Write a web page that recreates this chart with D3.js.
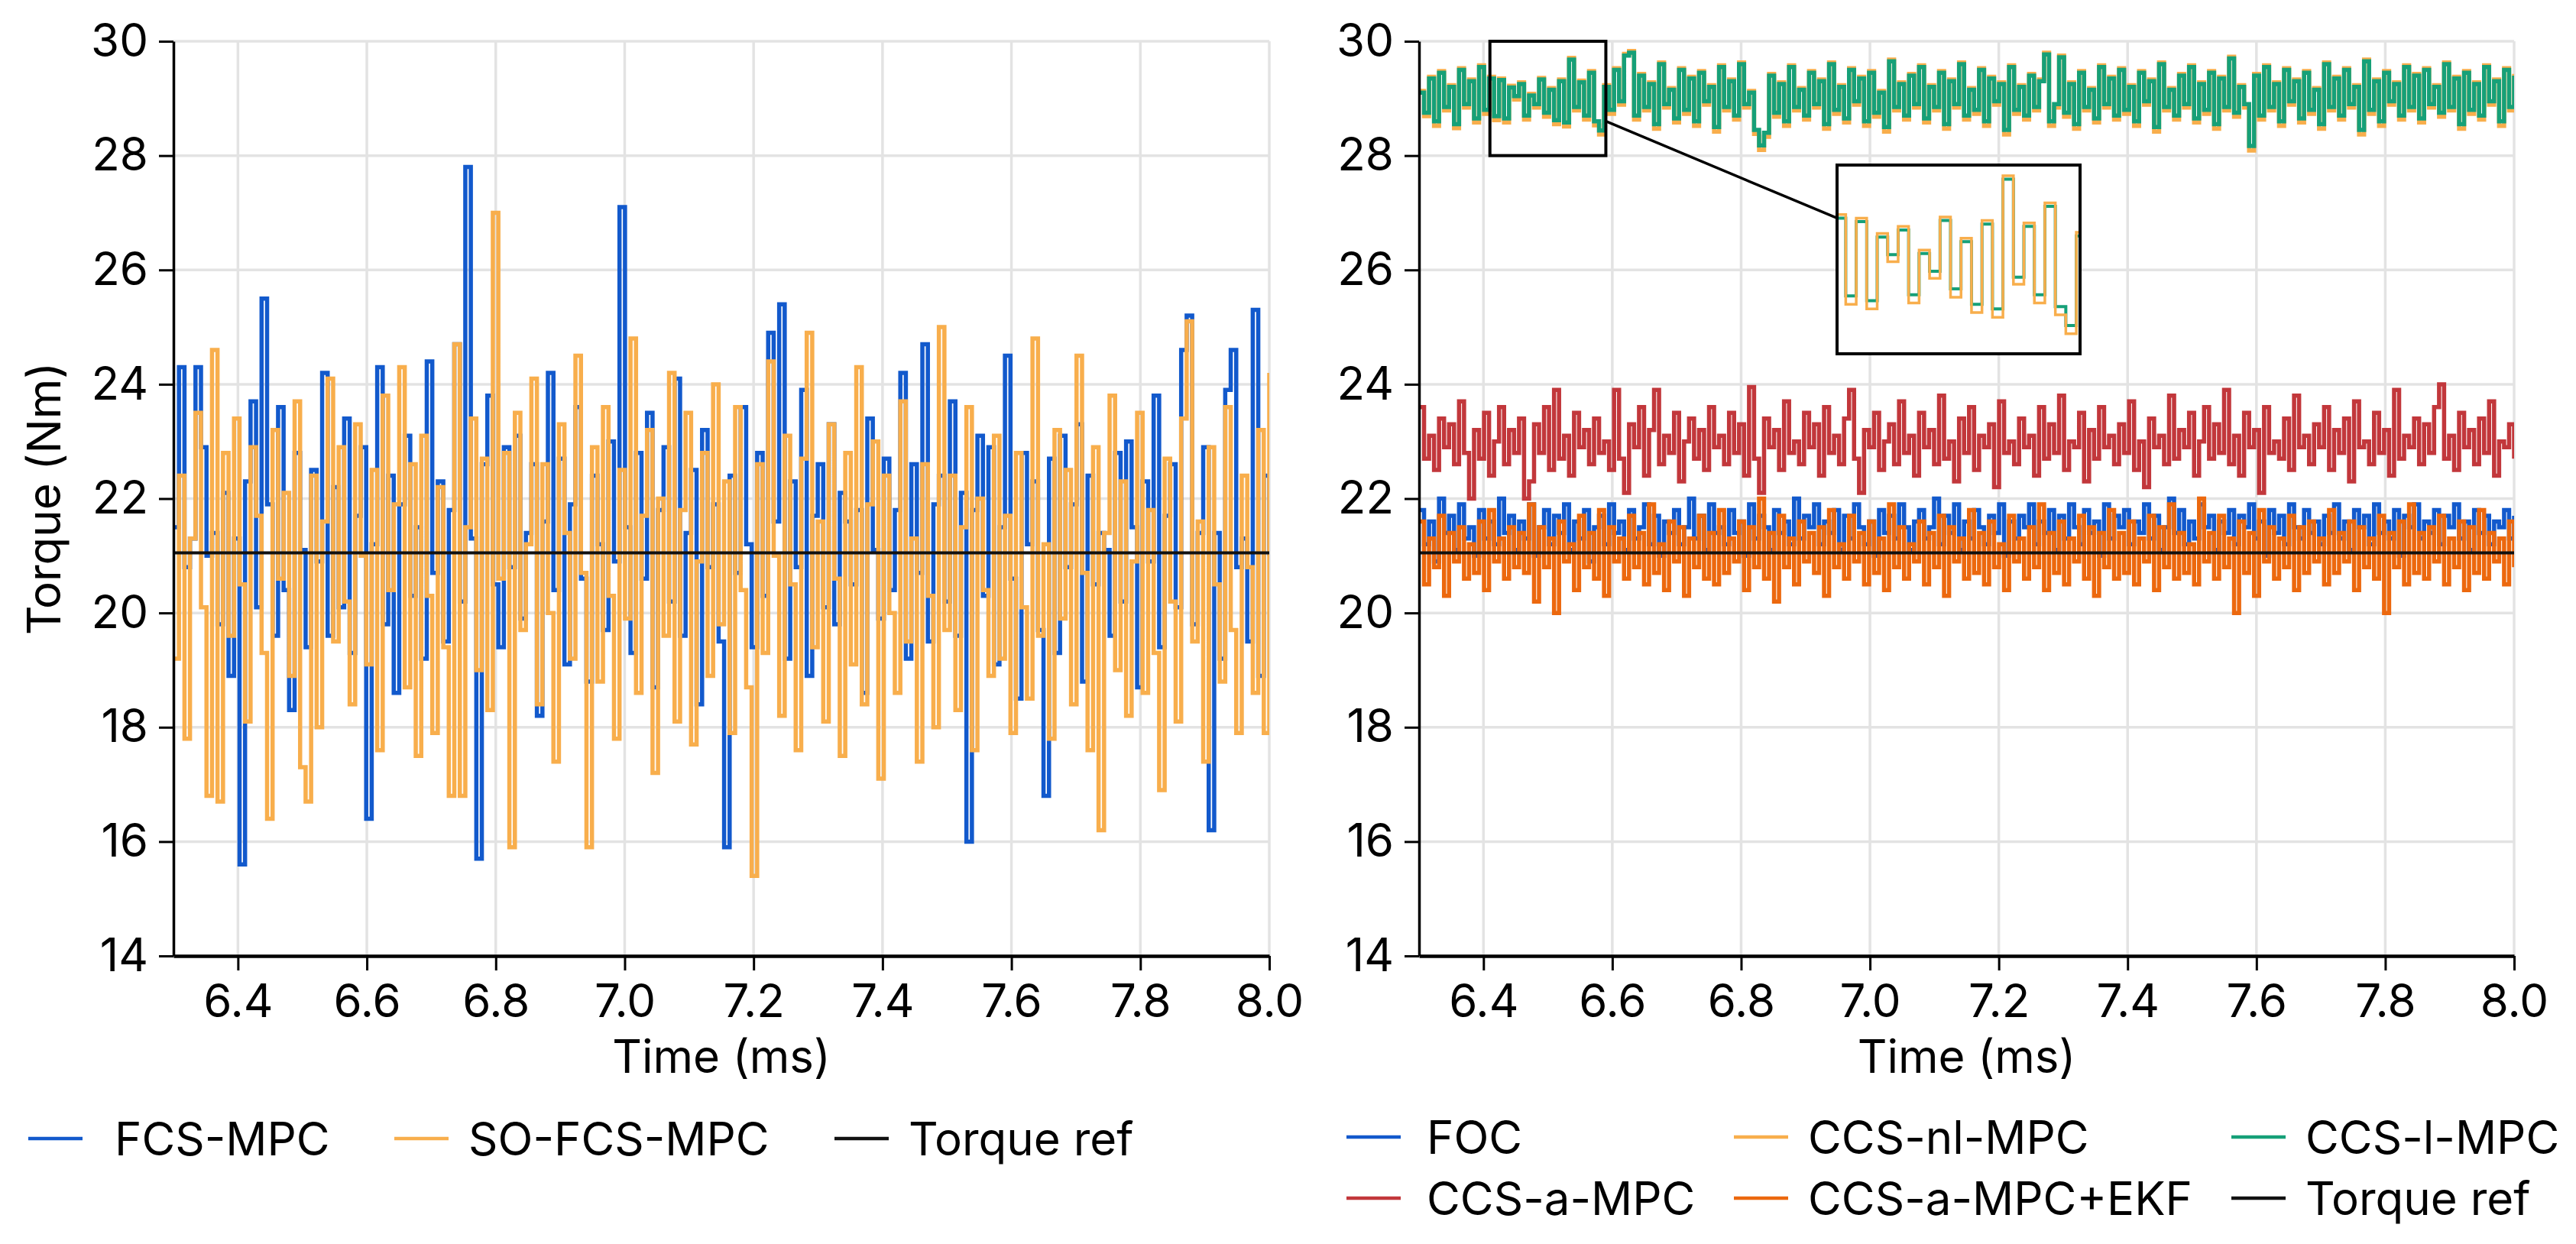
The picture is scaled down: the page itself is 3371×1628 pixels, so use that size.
<!DOCTYPE html>
<html>
<head>
<meta charset="utf-8">
<script src="https://cdn.jsdelivr.net/npm/d3@7"></script>
<style>
  body { margin: 0; background: #fff; }
  text { font-family: Inter, "Liberation Sans", sans-serif; fill: #000; }
</style>
</head>
<body>
<script>
// ---- data ----
var tStart = 6.3, tEnd = 8.0;
var torqueRef = 21.05;
var xTicks = [6.4, 6.6, 6.8, 7.0, 7.2, 7.4, 7.6, 7.8, 8.0];
var yTicks = [14, 16, 18, 20, 22, 24, 26, 28, 30];

var fcsMpc = [
  21.5,24.3,20.8,21.3,24.3,22.9,21.0,21.4,19.8,22.1,18.9,21.3,15.6,22.3,23.7,20.1,25.5,21.9,19.6,23.6,
  20.4,18.3,22.8,21.1,19.4,22.5,20.9,24.2,19.6,22.2,20.1,23.4,19.3,21.7,22.9,16.4,21.2,24.3,19.8,22.4,
  18.6,21.9,23.1,20.3,21.5,19.2,24.4,20.7,22.3,19.5,21.8,24.7,20.2,27.8,21.3,15.7,22.6,23.8,20.5,19.4,
  22.9,20.8,23.1,19.9,21.4,22.6,18.2,21.6,24.2,20.4,22.7,19.1,21.9,23.6,20.6,18.8,22.4,21.2,19.7,23.0,
  20.9,27.1,21.5,19.3,22.8,20.6,23.5,18.7,21.8,22.9,20.2,24.1,19.6,21.4,22.5,18.4,23.2,20.8,21.9,19.5,
  15.9,22.4,20.7,23.6,21.2,19.4,22.8,20.3,24.9,21.6,25.4,19.2,22.3,20.8,23.9,18.9,21.7,22.6,20.1,23.3,
  19.8,22.1,21.6,20.5,21.8,18.6,23.4,21.1,19.9,22.7,20.4,21.8,24.2,19.2,22.6,20.7,24.7,19.5,21.9,22.4,
  20.2,23.7,19.6,22.1,16.0,21.8,23.1,20.3,22.9,19.1,21.5,24.5,20.6,18.5,22.8,21.2,22.3,19.7,16.8,22.7,
  19.3,23.1,20.8,21.9,23.3,18.8,22.4,20.5,21.4,21.1,19.6,22.8,20.2,23.0,21.5,18.7,22.3,20.9,23.8,19.4,
  21.7,22.6,20.1,24.6,25.2,19.8,21.4,22.9,16.2,21.4,19.2,23.9,24.6,20.8,21.3,19.5,25.3,18.9,22.4,21.0
];
var soFcsMpc = [
  19.2,22.4,17.8,21.3,23.5,20.1,16.8,24.6,16.7,22.8,19.6,23.4,20.5,18.1,22.9,21.7,19.3,16.4,23.2,20.6,
  22.1,18.9,23.7,17.3,16.7,22.4,18.0,21.6,24.1,19.5,22.9,20.2,18.4,23.3,21.0,19.1,22.5,17.6,23.8,20.4,
  21.9,24.3,18.7,22.6,17.5,23.1,20.3,17.9,22.2,19.4,16.8,24.7,16.8,21.5,23.4,19.0,22.7,18.3,27.0,20.6,
  22.8,15.9,23.5,19.7,21.2,24.1,18.4,22.6,20.0,17.4,23.3,21.4,19.2,24.5,20.7,15.9,22.9,18.8,23.6,20.3,
  17.8,22.5,19.9,24.8,18.6,21.7,23.2,17.2,22.0,19.6,24.2,18.1,21.8,23.5,17.7,20.9,22.8,18.9,24.0,19.8,
  22.3,17.9,23.6,20.4,18.7,15.4,22.6,19.3,24.4,21.0,18.2,23.1,20.5,17.6,22.7,24.9,19.4,21.6,18.1,23.3,
  20.6,17.5,22.8,19.1,24.3,18.4,21.9,23.0,17.1,22.4,20.0,18.6,23.7,19.5,21.3,17.4,22.6,20.3,18.0,25.0,
  19.7,22.4,18.3,21.5,23.6,17.6,22.0,20.4,18.9,23.1,19.2,21.7,17.9,22.8,20.1,18.5,24.8,19.6,21.2,17.8,
  23.2,19.9,22.5,18.4,24.5,20.7,17.6,22.9,16.2,21.4,23.8,19.0,22.3,18.2,20.9,23.5,18.6,21.8,19.3,16.9,
  22.7,20.2,18.1,23.4,25.1,19.5,21.6,17.4,22.9,20.5,18.8,23.6,19.7,17.9,22.4,20.8,18.6,23.2,17.9,24.2
];

var foc = [
  21.8,21.2,21.6,20.9,22.0,21.4,21.7,21.1,21.9,21.3,21.5,21.0,21.8,21.3,21.6,21.2,22.0,21.4,21.7,21.1,
  21.6,21.3,21.9,21.0,21.5,21.8,21.2,21.7,21.4,21.9,21.1,21.6,21.3,21.8,20.9,21.5,21.7,21.2,21.9,21.4,
  21.6,21.1,21.8,21.3,21.5,21.9,21.2,21.7,21.0,21.6,21.4,21.8,21.2,21.5,22.0,21.3,21.7,21.1,21.9,21.4,
  21.5,21.2,21.8,21.4,21.6,21.0,21.9,21.3,21.7,21.5,21.1,21.8,21.4,21.6,21.2,22.0,21.3,21.7,21.5,21.9,
  21.2,21.6,21.4,21.8,21.1,21.7,21.3,21.9,21.5,21.2,21.6,21.0,21.8,21.4,21.7,21.3,21.9,21.5,21.1,21.6,
  21.8,21.3,21.5,22.0,21.2,21.7,21.4,21.9,21.1,21.6,21.3,21.8,21.5,21.2,21.7,21.4,21.9,21.0,21.6,21.3,
  21.7,21.5,21.9,21.2,21.6,21.4,21.8,21.1,21.7,21.3,21.9,21.5,21.2,21.8,21.4,21.6,21.0,21.9,21.3,21.7,
  21.5,21.8,21.2,21.6,21.4,21.9,21.3,21.7,21.1,21.5,22.0,21.4,21.8,21.2,21.6,21.3,21.9,21.5,21.7,21.1,
  21.6,21.4,21.8,21.2,21.7,21.5,21.9,21.3,21.6,21.0,21.8,21.4,21.7,21.2,21.9,21.5,21.3,21.8,21.4,21.6,
  21.2,21.7,21.4,21.9,21.3,21.6,21.1,21.8,21.5,21.7,21.2,21.9,21.4,21.6,21.3,21.8,21.0,21.7,21.5,21.9,
  21.3,21.6,21.4,21.8,21.2,21.7,21.5,21.9,21.3,21.6,21.1,21.8,21.4,21.7,21.2,21.6,21.5,21.8,21.3,21.7
];
var ccsNlMpc = [
  29.13,28.69,29.38,28.52,29.48,28.79,29.23,28.48,29.53,28.84,29.33,28.58,29.58,28.73,29.38,28.62,29.35,28.58,29.22,28.98,
  29.28,28.63,29.08,28.84,29.36,28.68,29.18,28.55,29.33,28.51,29.71,28.79,29.31,28.63,29.48,28.53,28.37,29.23,28.73,29.53,
  28.89,29.78,29.83,28.63,29.43,28.79,29.28,28.47,29.63,28.84,29.18,28.58,29.53,28.73,29.38,28.52,29.48,28.89,29.23,28.42,
  29.58,28.79,29.33,28.63,29.63,28.84,29.13,28.38,28.10,28.33,29.43,28.68,29.28,28.52,29.58,28.79,29.18,28.63,29.48,28.84,
  29.33,28.47,29.63,28.73,29.23,28.58,29.53,28.89,29.38,28.52,29.48,28.68,29.13,28.42,29.68,28.79,29.28,28.63,29.43,28.84,
  29.58,28.58,29.23,28.79,29.48,28.47,29.33,28.84,29.63,28.63,29.18,28.73,29.53,28.52,29.38,28.89,29.28,28.37,29.58,28.73,
  29.23,28.63,29.43,28.79,29.33,29.80,28.52,28.84,29.75,28.68,29.28,28.47,29.48,28.79,29.18,28.58,29.58,28.84,29.38,28.63,
  29.53,28.73,29.23,28.52,29.48,28.89,29.33,28.42,29.63,28.79,29.18,28.63,29.43,28.84,29.58,28.58,29.28,28.73,29.48,28.47,
  29.38,28.79,29.73,28.68,29.23,28.84,28.09,29.43,28.63,29.58,28.79,29.28,28.52,29.53,28.89,29.33,28.58,29.48,28.73,29.18,
  28.47,29.63,28.79,29.38,28.63,29.53,28.84,29.23,28.37,29.68,28.73,29.33,28.52,29.48,28.89,29.28,28.63,29.58,28.79,29.43,
  28.58,29.53,28.84,29.23,28.68,29.63,28.79,29.38,28.47,29.48,28.73,29.28,28.63,29.58,28.89,29.33,28.52,29.53,28.79,29.43
];
var ccsLMpc = [
  29.10,28.75,29.35,28.60,29.45,28.85,29.20,28.55,29.50,28.90,29.30,28.65,29.55,28.80,29.35,28.69,29.32,28.65,29.19,29.04,
  29.25,28.70,29.05,28.90,29.33,28.75,29.15,28.62,29.30,28.58,29.68,28.85,29.28,28.70,29.45,28.60,28.44,29.20,28.80,29.50,
  28.95,29.75,29.80,28.70,29.40,28.85,29.25,28.55,29.60,28.90,29.15,28.65,29.50,28.80,29.35,28.60,29.45,28.95,29.20,28.50,
  29.55,28.85,29.30,28.70,29.60,28.90,29.10,28.45,28.18,28.40,29.40,28.75,29.25,28.60,29.55,28.85,29.15,28.70,29.45,28.90,
  29.30,28.55,29.60,28.80,29.20,28.65,29.50,28.95,29.35,28.60,29.45,28.75,29.10,28.50,29.65,28.85,29.25,28.70,29.40,28.90,
  29.55,28.65,29.20,28.85,29.45,28.55,29.30,28.90,29.60,28.70,29.15,28.80,29.50,28.60,29.35,28.95,29.25,28.45,29.55,28.80,
  29.20,28.70,29.40,28.85,29.30,29.77,28.60,28.90,29.72,28.75,29.25,28.55,29.45,28.85,29.15,28.65,29.55,28.90,29.35,28.70,
  29.50,28.80,29.20,28.60,29.45,28.95,29.30,28.50,29.60,28.85,29.15,28.70,29.40,28.90,29.55,28.65,29.25,28.80,29.45,28.55,
  29.35,28.85,29.70,28.75,29.20,28.90,28.17,29.40,28.70,29.55,28.85,29.25,28.60,29.50,28.95,29.30,28.65,29.45,28.80,29.15,
  28.55,29.60,28.85,29.35,28.70,29.50,28.90,29.20,28.45,29.65,28.80,29.30,28.60,29.45,28.95,29.25,28.70,29.55,28.85,29.40,
  28.65,29.50,28.90,29.20,28.75,29.60,28.85,29.35,28.55,29.45,28.80,29.25,28.70,29.55,28.95,29.30,28.60,29.50,28.85,29.40
];
var ccsAMpc = [
  23.6,22.7,23.1,22.5,23.4,22.9,23.3,22.6,23.7,22.8,22.0,23.2,22.7,23.5,22.4,23.0,23.6,22.6,23.2,22.8,
  23.4,22.0,22.3,23.3,22.8,23.6,22.5,23.9,22.7,23.1,22.4,23.5,22.9,23.2,22.6,23.4,22.8,23.0,22.5,23.9,
  22.7,22.1,23.3,22.9,23.6,22.4,23.2,23.9,22.6,23.1,22.8,23.5,22.3,23.0,23.4,22.7,23.2,22.5,23.6,22.9,
  23.1,22.6,23.5,22.8,23.3,22.4,23.95,22.7,22.1,23.4,22.9,23.2,22.5,23.7,22.8,23.0,22.6,23.5,22.9,23.3,
  22.4,23.6,22.8,23.1,22.6,23.4,23.9,22.7,22.1,23.2,22.9,23.5,22.5,23.0,23.3,22.6,23.7,22.8,23.1,22.4,
  23.5,22.9,23.2,22.6,23.8,22.7,23.0,22.3,23.4,22.8,23.6,22.5,23.1,22.9,23.3,22.2,23.7,22.8,23.0,22.6,
  23.4,22.9,23.1,22.4,23.6,22.7,23.3,22.8,23.8,22.5,23.0,22.9,23.5,22.3,23.2,22.7,23.6,22.9,23.1,22.6,
  23.3,22.8,23.7,22.5,23.0,22.2,23.4,22.9,23.1,22.6,23.8,22.7,23.2,22.9,23.5,22.4,23.0,23.6,22.7,23.3,
  22.8,23.9,22.6,23.1,22.4,23.5,22.9,23.2,22.1,23.6,22.8,23.0,22.7,23.4,22.5,23.8,22.9,23.1,22.6,23.3,
  22.9,23.6,22.5,23.2,22.8,23.4,22.3,23.7,22.9,23.0,22.6,23.5,22.8,23.2,22.4,23.9,22.7,23.1,22.9,23.4,
  22.6,23.3,22.8,23.6,24.0,22.7,23.1,22.5,23.5,22.9,23.2,22.6,23.4,22.8,23.7,22.4,23.0,22.9,23.3,22.7
];
var ccsAMpcEkf = [
  21.6,20.5,21.3,20.8,21.7,20.3,21.4,20.9,21.5,20.6,21.2,20.7,21.6,20.4,21.8,20.9,21.3,20.6,21.5,20.8,
  21.4,20.7,21.9,20.2,21.5,20.8,21.3,20.0,21.6,20.9,21.2,20.4,21.7,20.8,21.4,20.6,21.8,20.3,21.5,20.9,
  21.3,20.6,21.7,20.8,21.4,20.5,21.9,20.7,21.2,20.4,21.6,20.9,21.5,20.3,21.3,20.8,21.7,20.6,21.4,20.5,
  21.8,20.7,21.3,20.9,21.6,20.4,21.5,20.8,22.0,20.6,21.4,20.2,21.7,20.8,21.3,20.5,21.6,20.9,21.4,20.7,
  21.5,20.3,21.8,20.8,21.2,20.6,21.7,20.9,21.4,20.5,21.6,20.7,21.3,20.4,21.9,20.8,21.5,20.6,21.2,20.9,
  21.6,20.5,21.4,20.8,21.7,20.3,21.5,20.9,21.3,20.6,21.8,20.7,21.4,20.5,21.6,20.8,21.2,20.4,21.7,20.9,
  21.3,20.6,21.5,20.8,21.9,20.4,21.4,20.7,21.6,20.5,21.3,20.9,21.7,20.6,21.5,20.3,21.4,20.8,21.8,20.6,
  21.4,20.7,21.6,20.5,21.3,20.9,21.7,20.4,21.5,20.8,21.9,20.6,21.4,20.7,21.2,20.5,22.0,20.9,21.4,20.6,
  21.7,20.8,21.3,20.0,21.6,20.7,21.4,20.3,21.8,20.9,21.5,20.6,21.3,20.8,21.7,20.4,21.5,20.7,21.6,20.9,
  21.3,20.5,21.8,20.7,21.4,20.9,21.6,20.4,21.5,20.8,21.3,20.6,21.7,20.0,21.4,20.8,21.6,20.5,21.9,20.7,
  21.4,20.6,21.5,20.9,21.7,20.5,21.3,20.8,21.6,20.4,21.5,20.7,21.8,20.6,21.4,20.9,21.3,20.5,21.6,20.8
];

// zoomed window shown in the inset
var zoomT = [6.41, 6.59], zoomV = [28, 30];
var insetV = [28.2, 29.8];

var colors = {
  blue: '#1259cc', light: '#f8ae4c', green: '#16a078',
  red: '#c2373b', dark: '#ec680e', ref: '#111111'
};

// ---- layout ----
var W = 3371, H = 1628;
var yTop = 54, yBot = 1251;
var font = 60;
var lw = 5.5;

var svg = d3.select('body').append('svg')
  .attr('width', W).attr('height', H)
  .attr('viewBox', '0 0 ' + W + ' ' + H);

function panel(id, x0, x1) {
  var x = d3.scaleLinear().domain([tStart, tEnd]).range([x0, x1]);
  var y = d3.scaleLinear().domain([14, 30]).range([yBot, yTop]);
  var g = svg.append('g').attr('class', 'panel-' + id);

  // grid
  g.append('g').selectAll('line').data(xTicks).join('line')
    .attr('x1', d => x(d)).attr('x2', d => x(d))
    .attr('y1', yTop).attr('y2', yBot)
    .attr('stroke', '#e3e3e3').attr('stroke-width', 3.5);
  g.append('g').selectAll('line').data(yTicks).join('line')
    .attr('x1', x0).attr('x2', x1)
    .attr('y1', d => y(d)).attr('y2', d => y(d))
    .attr('stroke', '#e3e3e3').attr('stroke-width', 3.5);

  svg.append('clipPath').attr('id', 'clip-' + id)
    .append('rect').attr('x', x0).attr('y', yTop)
    .attr('width', x1 - x0).attr('height', yBot - yTop);
  var plot = g.append('g').attr('clip-path', 'url(#clip-' + id + ')');

  return { g: g, plot: plot, x: x, y: y, x0: x0, x1: x1 };
}

function drawSeries(p, values, color, width, xs, ys) {
  var dt = (tEnd - tStart) / (values.length - 1);
  var line = d3.line()
    .x((d, i) => xs(tStart + i * dt))
    .y(d => ys(d))
    .curve(d3.curveStepAfter);
  p.append('path').datum(values)
    .attr('d', line)
    .attr('fill', 'none')
    .attr('stroke', color)
    .attr('stroke-width', width)
    .attr('stroke-linejoin', 'miter');
}

function drawRef(pn) {
  pn.plot.append('line')
    .attr('x1', pn.x(tStart)).attr('x2', pn.x(tEnd))
    .attr('y1', pn.y(torqueRef)).attr('y2', pn.y(torqueRef))
    .attr('stroke', colors.ref).attr('stroke-width', 4);
}

function drawAxes(pn) {
  var ax = pn.g.append('g')
    .attr('transform', 'translate(' + pn.x0 + ',0)')
    .call(d3.axisLeft(pn.y).tickValues(yTicks).tickSize(19).tickSizeOuter(0)
      .tickPadding(14).tickFormat(d3.format('d')));
  var bx = pn.g.append('g')
    .attr('transform', 'translate(0,' + yBot + ')')
    .call(d3.axisBottom(pn.x).tickValues(xTicks).tickSize(19).tickSizeOuter(0)
      .tickPadding(18).tickFormat(d3.format('.1f')));
  [ax, bx].forEach(function (a) {
    a.attr('font-size', font).attr('font-family', 'Inter, "Liberation Sans", sans-serif');
    a.selectAll('text').attr('fill', '#000');
    a.selectAll('line').attr('stroke', '#000').attr('stroke-width', 3);
  });
  ax.select('.domain').attr('stroke', '#000').attr('stroke-width', 3.5);
  bx.select('.domain').attr('stroke', '#000').attr('stroke-width', 4.5);

  pn.g.append('text')
    .attr('x', (pn.x0 + pn.x1) / 2).attr('y', 1404)
    .attr('text-anchor', 'middle').attr('font-size', font)
    .text('Time (ms)');
}

// ---- left panel ----
var L = panel('left', 227, 1661);
drawSeries(L.plot, fcsMpc, colors.blue, lw, L.x, L.y);
drawSeries(L.plot, soFcsMpc, colors.light, lw, L.x, L.y);
drawRef(L);
drawAxes(L);

svg.append('text')
  .attr('transform', 'translate(79,' + ((yTop + yBot) / 2) + ') rotate(-90)')
  .attr('text-anchor', 'middle').attr('font-size', font)
  .text('Torque (Nm)');

// ---- right panel ----
var R = panel('right', 1857, 3290);
drawSeries(R.plot, foc, colors.blue, lw, R.x, R.y);
drawSeries(R.plot, ccsNlMpc, colors.light, lw, R.x, R.y);
drawSeries(R.plot, ccsLMpc, colors.green, lw, R.x, R.y);
drawSeries(R.plot, ccsAMpc, colors.red, lw, R.x, R.y);
drawSeries(R.plot, ccsAMpcEkf, colors.dark, lw, R.x, R.y);
drawRef(R);
drawAxes(R);

// zoom box on the main plot
R.g.append('rect')
  .attr('x', R.x(zoomT[0])).attr('y', R.y(zoomV[1]))
  .attr('width', R.x(zoomT[1]) - R.x(zoomT[0]))
  .attr('height', R.y(zoomV[0]) - R.y(zoomV[1]))
  .attr('fill', 'none').attr('stroke', '#000').attr('stroke-width', 4);

// inset
var inset = { x0: 2404, x1: 2722, y0: 216, y1: 463 };
var ix = d3.scaleLinear().domain(zoomT).range([inset.x0, inset.x1]);
var iy = d3.scaleLinear().domain(insetV).range([inset.y1, inset.y0]);

R.g.append('line')
  .attr('x1', R.x(zoomT[1])).attr('y1', R.y(28.6))
  .attr('x2', ix(zoomT[0])).attr('y2', iy(29.35))
  .attr('stroke', '#000').attr('stroke-width', 3.5);

R.g.append('rect')
  .attr('x', inset.x0).attr('y', inset.y0)
  .attr('width', inset.x1 - inset.x0).attr('height', inset.y1 - inset.y0)
  .attr('fill', '#fff');
svg.append('clipPath').attr('id', 'clip-inset')
  .append('rect').attr('x', inset.x0).attr('y', inset.y0)
  .attr('width', inset.x1 - inset.x0).attr('height', inset.y1 - inset.y0);
var ip = R.g.append('g').attr('clip-path', 'url(#clip-inset)');
drawSeries(ip, ccsLMpc, colors.green, 4, ix, iy);
drawSeries(ip, ccsNlMpc, colors.light, 3.5, ix, iy);
R.g.append('rect')
  .attr('x', inset.x0).attr('y', inset.y0)
  .attr('width', inset.x1 - inset.x0).attr('height', inset.y1 - inset.y0)
  .attr('fill', 'none').attr('stroke', '#000').attr('stroke-width', 4);

// ---- legends ----
var legendLeft = [
  { name: 'FCS-MPC', color: colors.blue, lx: 37, tx: 150, y: 1490 },
  { name: 'SO-FCS-MPC', color: colors.light, lx: 516, tx: 613, y: 1490 },
  { name: 'Torque ref', color: colors.ref, lx: 1092, tx: 1189, y: 1490 }
];
var legendRight = [
  { name: 'FOC', color: colors.blue, lx: 1762, tx: 1867, y: 1488 },
  { name: 'CCS-nl-MPC', color: colors.light, lx: 2269, tx: 2366, y: 1488 },
  { name: 'CCS-l-MPC', color: colors.green, lx: 2920, tx: 3017, y: 1488 },
  { name: 'CCS-a-MPC', color: colors.red, lx: 1762, tx: 1867, y: 1568 },
  { name: 'CCS-a-MPC+EKF', color: colors.dark, lx: 2269, tx: 2366, y: 1568 },
  { name: 'Torque ref', color: colors.ref, lx: 2920, tx: 3017, y: 1568 }
];
var leg = svg.append('g').attr('class', 'legend');
var items = leg.selectAll('g').data(legendLeft.concat(legendRight)).join('g');
items.append('line')
  .attr('x1', d => d.lx).attr('x2', d => d.lx + 71)
  .attr('y1', d => d.y).attr('y2', d => d.y)
  .attr('stroke', d => d.color).attr('stroke-width', 4.5);
items.append('text')
  .attr('x', d => d.tx).attr('y', d => d.y + 22)
  .attr('font-size', font)
  .text(d => d.name);
</script>
</body>
</html>
